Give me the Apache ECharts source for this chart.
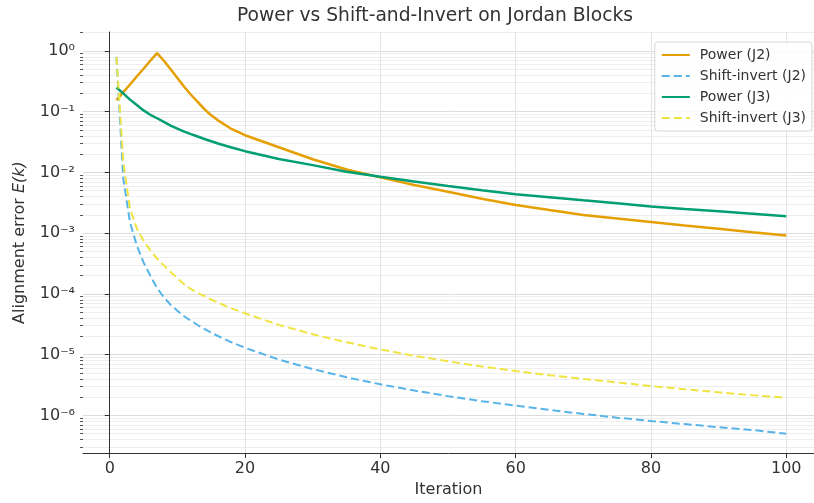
<!DOCTYPE html>
<html>
<head>
<meta charset="utf-8">
<title>Power vs Shift-and-Invert on Jordan Blocks</title>
<script src="https://cdn.jsdelivr.net/npm/echarts@6.0.0/dist/echarts.min.js"></script>
<style>
    html, body { margin: 0; padding: 0; background: #ffffff; }
    #chart { width: 814px; height: 503px; }
</style>
</head>
<body>
<div id="chart"></div>
<script>
    // values
    const iterations = [1, 2, 3, 4, 5, 6, 7, 8, 9, 10, 11, 12, 13, 14, 15, 16, 18, 20, 25, 30, 35, 40, 45, 50, 55, 60, 65, 70, 75, 80, 85, 90, 95, 100];
    const powerJ2 = [0.155, 0.21, 0.28, 0.38, 0.51, 0.69, 0.92, 0.69, 0.50, 0.36, 0.257, 0.19, 0.145, 0.11, 0.087, 0.072, 0.052, 0.041, 0.026, 0.0165, 0.0112, 0.0083, 0.0062, 0.0048, 0.0037, 0.0029, 0.0024, 0.0020, 0.00175, 0.00153, 0.00134, 0.00118, 0.00104, 0.00092];
    const shiftInvertJ2 = [0.8, 8e-3, 1.5e-3, 6.3e-4, 3.3e-4, 2.0e-4, 1.25e-4, 8.8e-5, 6.6e-5, 5.3e-5, 4.3e-5, 3.6e-5, 3.08e-5, 2.65e-5, 2.3e-5, 2.03e-5, 1.6e-5, 1.3e-5, 8.3e-6, 5.8e-6, 4.25e-6, 3.25e-6, 2.57e-6, 2.08e-6, 1.72e-6, 1.45e-6, 1.23e-6, 1.06e-6, 9.2e-7, 8.1e-7, 7.2e-7, 6.4e-7, 5.76e-7, 5.0e-7];
    const powerJ3 = [0.25, 0.2, 0.158, 0.129, 0.105, 0.089, 0.078, 0.068, 0.059, 0.0525, 0.047, 0.0427, 0.039, 0.0355, 0.0326, 0.030, 0.0257, 0.0224, 0.0166, 0.0132, 0.0103, 0.0085, 0.0071, 0.0060, 0.0051, 0.00437, 0.0039, 0.00347, 0.0031, 0.00275, 0.0025, 0.00229, 0.00209, 0.0019];
    const shiftInvertJ3 = [0.8, 1.5e-2, 2.5e-3, 1.2e-3, 7.5e-4, 5.2e-4, 3.8e-4, 2.95e-4, 2.3e-4, 1.8e-4, 1.45e-4, 1.2e-4, 1.05e-4, 9.2e-5, 8.1e-5, 7.2e-5, 5.8e-5, 4.8e-5, 3.1e-5, 2.17e-5, 1.6e-5, 1.22e-5, 9.6e-6, 7.8e-6, 6.4e-6, 5.4e-6, 4.6e-6, 4.0e-6, 3.5e-6, 3.05e-6, 2.7e-6, 2.4e-6, 2.16e-6, 1.95e-6];

    const seriesNames = ['Power (J2)', 'Shift-invert (J2)', 'Power (J3)', 'Shift-invert (J3)'];
    const xTicks = [0, 20, 40, 60, 80, 100];
    const yTicks = [1e-6, 1e-5, 1e-4, 1e-3, 1e-2, 1e-1, 1];

    const X_MIN = -3.95, X_MAX = 104.1;
    const Y_MIN = 2.4e-7, Y_MAX = 2.05;
    const FONT = 'DejaVu Sans';
    const TEXT = '#333333';

    // minor log ticks at 2..9 x 10^n
    const yMinor = [];
    for (let e = -7; e <= 0; e++)
        for (let m = 2; m <= 9; m++) {
            const v = m * Math.pow(10, e);
            if (v > Y_MIN && v < Y_MAX) yMinor.push(v);
        }

    const SUP = {'0': '⁰', '1': '¹', '2': '²', '3': '³', '4': '⁴', '5': '⁵', '6': '⁶', '7': '⁷', '8': '⁸', '9': '⁹', '-': '⁻'};
    const powLabel = v => '10' + String(Math.round(Math.log10(v))).split('').map(c => SUP[c]).join('');

    const pairs = values => iterations.map((k, i) => [k, values[i]]);

    const chart = echarts.init(document.getElementById('chart'));
    chart.setOption({
        animation: false,
        backgroundColor: '#ffffff',
        textStyle: {fontFamily: FONT},
        title: {
            text: 'Power vs Shift-and-Invert on Jordan Blocks',
            left: 232,
            top: 2,
            textStyle: {fontFamily: FONT, fontSize: 18.7, fontWeight: 'normal', color: TEXT}
        },
        grid: {left: 83, right: 0, top: 32, bottom: 45, containLabel: false},
        legend: {
            orient: 'vertical',
            right: 2,
            top: 42,
            padding: [6, 6, 6, 6],
            itemWidth: 28,
            itemHeight: 14,
            itemGap: 7,
            itemStyle: {opacity: 0},
            backgroundColor: 'rgba(255,255,255,0.85)',
            borderColor: '#d6d6d6',
            borderWidth: 1,
            borderRadius: 3,
            textStyle: {fontFamily: FONT, fontSize: 14, color: TEXT, padding: [0, 0, 0, 5]},
            data: seriesNames
        },
        xAxis: {
            type: 'value',
            min: X_MIN,
            max: X_MAX,
            name: 'Iteration',
            nameLocation: 'middle',
            nameGap: 26,
            nameTextStyle: {fontFamily: FONT, fontSize: 16, color: TEXT},
            axisLine: {lineStyle: {color: '#333333', width: 1}},
            axisTick: {show: true, length: 5, customValues: xTicks, lineStyle: {color: '#333333'}},
            axisLabel: {customValues: xTicks, margin: 8, fontFamily: FONT, fontSize: 16, color: TEXT},
            splitLine: {show: true, lineStyle: {color: '#e4e4e4', width: 1}}
        },
        yAxis: [{
            type: 'log',
            logBase: 10,
            min: Y_MIN,
            max: Y_MAX,
            name: '{a|Alignment error }{b|E(k)}',
            nameLocation: 'middle',
            nameRotate: 90,
            nameGap: 55,
            nameTextStyle: {
                rich: {
                    a: {fontFamily: FONT, fontSize: 16, color: TEXT},
                    b: {fontFamily: FONT, fontSize: 16, color: TEXT, fontStyle: 'italic'}
                }
            },
            axisLine: {show: true, lineStyle: {color: '#333333', width: 1}},
            axisTick: {show: true, length: 5, customValues: yTicks, lineStyle: {color: '#333333'}},
            axisLabel: {customValues: yTicks, margin: 8, fontFamily: FONT, fontSize: 16, color: TEXT, formatter: powLabel},
            splitLine: {show: true, lineStyle: {color: '#dcdcdc', width: 1}}
        }, {
            // overlay axis for the log minor ticks and grid
            type: 'log',
            logBase: 10,
            min: Y_MIN,
            max: Y_MAX,
            position: 'left',
            axisLine: {show: false},
            axisTick: {show: true, length: 3, customValues: yMinor, lineStyle: {color: '#555555'}},
            axisLabel: {show: false},
            splitLine: {show: true, lineStyle: {color: '#eeeeee', width: 1}}
        }],
        series: [
            {name: seriesNames[0], type: 'line', data: pairs(powerJ2), symbol: 'none', color: '#E69F00', lineStyle: {width: 2.5, color: '#E69F00'}, z: 3},
            {name: seriesNames[1], type: 'line', data: pairs(shiftInvertJ2), symbol: 'none', color: '#56B4E9', lineStyle: {width: 2, type: [8, 4], color: '#56B4E9'}, z: 4},
            {name: seriesNames[2], type: 'line', data: pairs(powerJ3), symbol: 'none', color: '#009E73', lineStyle: {width: 2.5, color: '#009E73'}, z: 5},
            {name: seriesNames[3], type: 'line', data: pairs(shiftInvertJ3), symbol: 'none', color: '#F0E442', lineStyle: {width: 2, type: [8, 4], color: '#F0E442'}, z: 6}
        ]
    });
</script>
</body>
</html>
